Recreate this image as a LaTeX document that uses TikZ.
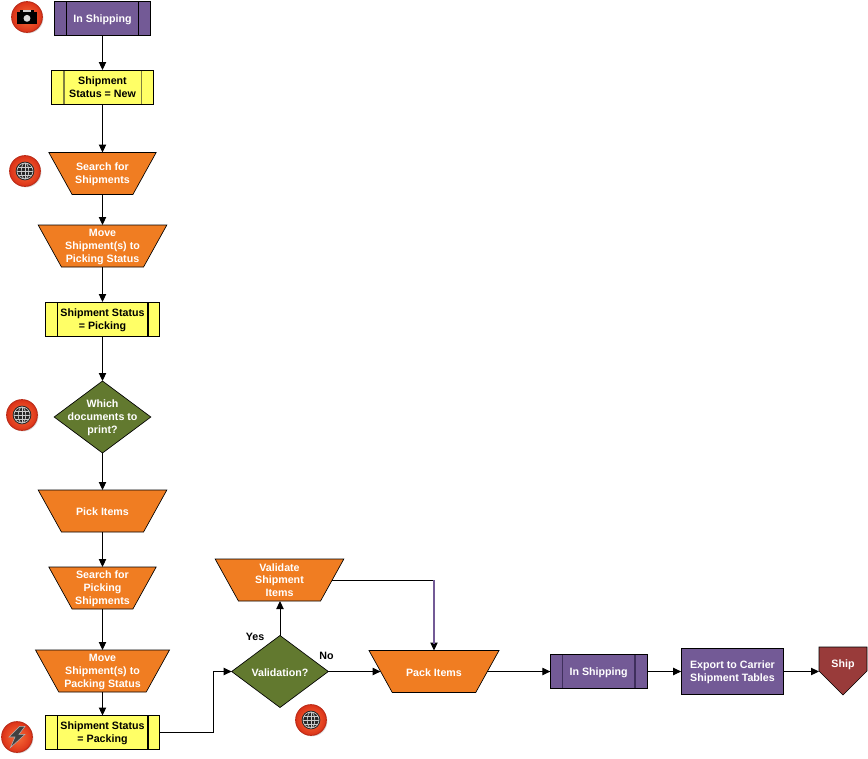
\documentclass[tikz,border=0pt]{standalone}
\usepackage{fontspec}
\setmainfont{Liberation Sans}
\usetikzlibrary{shapes.geometric, shapes.symbols, arrows.meta, shadows}

\definecolor{procpurple}{HTML}{735A96}
\definecolor{darkpurple}{HTML}{3F2F5C}
\definecolor{statusyellow}{HTML}{FFFF66}
\definecolor{olivebar}{HTML}{7F7F40}
\definecolor{steporange}{HTML}{F07D22}
\definecolor{decgreen}{HTML}{62792F}
\definecolor{shipred}{HTML}{993B3A}
\definecolor{badgeinner}{HTML}{F8703A}
\definecolor{badgeouter}{HTML}{DC3218}
\definecolor{badgerim}{HTML}{BC2C18}

\tikzset{
    boxtext/.style={font=\bfseries\fontsize{8}{9.6}\selectfont, align=center, inner sep=0pt},
    whitetext/.style={boxtext, text=white, yshift=-0.75pt},
    blacktext/.style={boxtext, text=black, yshift=-0.75pt},
    barbox/.style 2 args={rectangle, draw, line width=0.75pt, outer sep=0pt,
        minimum height=#2,
        path picture={
            \draw[#1, line width=1pt] ([xshift=9pt]path picture bounding box.north west) -- ([xshift=9pt]path picture bounding box.south west);
            \draw[#1, line width=1pt] ([xshift=-9pt]path picture bounding box.north east) -- ([xshift=-9pt]path picture bounding box.south east);
        }},
    statusbox/.style={barbox={black}{25.5pt}, fill=statusyellow},
    shipbox/.style={barbox={black}{26pt}, fill=procpurple},
    stepbox/.style={trapezium, trapezium stretches body=true, shape border rotate=180,
        trapezium left angle=61, trapezium right angle=61, draw, line width=0.5pt, outer sep=0pt,
        fill=steporange, inner ysep=15.75pt, inner xsep=0pt},
    decision/.style={diamond, draw, line width=0.5pt, outer sep=0pt, fill=decgreen, inner sep=0pt,
        minimum width=72.5pt, minimum height=54pt},
    flow/.style={-{Triangle[length=6pt, width=5.5pt]}, line width=0.75pt},
    badge/.style={circle, minimum size=23pt, inner sep=0pt, outer sep=0pt,
        draw=badgerim, line width=0.75pt, shading=radial, inner color=badgeinner, outer color=badgeouter,
        drop shadow={opacity=0.3, shadow xshift=0.8pt, shadow yshift=-0.8pt}},
    globebadge/.style={badge, path picture={
        \coordinate (gc) at (path picture bounding box.center);
        \fill[black!85] (gc) circle (7pt);
        \draw[white!80!black, line width=0.5pt] (gc) circle (6pt);
        \draw[white!80!black, line width=0.5pt] (gc) ellipse (2.8pt and 6pt);
        \draw[white!80!black, line width=0.5pt] ([xshift=-6pt]gc) -- ([xshift=6pt]gc);
        \draw[white!80!black, line width=0.5pt] ([xshift=-5pt, yshift=3pt]gc) -- ([xshift=5pt, yshift=3pt]gc);
        \draw[white!80!black, line width=0.5pt] ([xshift=-5pt, yshift=-3pt]gc) -- ([xshift=5pt, yshift=-3pt]gc);
        \draw[white!80!black, line width=0.5pt] ([yshift=-6pt]gc) -- ([yshift=6pt]gc);
    }},
    camerabadge/.style={badge, path picture={
        \coordinate (gc) at (path picture bounding box.center);
        \fill[black] ([xshift=-7.5pt, yshift=-5.5pt]gc) rectangle ([xshift=7.5pt, yshift=3.5pt]gc);
        \fill[black] ([xshift=-5.5pt, yshift=3.5pt]gc) rectangle ([xshift=-3pt, yshift=5.5pt]gc);
        \fill[black] ([xshift=3pt, yshift=3.5pt]gc) rectangle ([xshift=5.5pt, yshift=5.5pt]gc);
        \fill[white!80!black] ([xshift=-3pt, yshift=3.5pt]gc) rectangle ([xshift=3pt, yshift=5pt]gc);
        \fill[white!85!black] ([yshift=-1pt]gc) circle (2.6pt);
    }},
    boltbadge/.style={badge, path picture={
        \coordinate (gc) at (path picture bounding box.center);
        \fill[black!75, draw=white!70!black, line width=0.4pt] ([xshift=2pt, yshift=8pt]gc) -- ([xshift=-6pt, yshift=0pt]gc) -- ([xshift=-1.5pt, yshift=0pt]gc)
            -- ([xshift=-5pt, yshift=-8pt]gc) -- ([xshift=6pt, yshift=2pt]gc) -- ([xshift=1.5pt, yshift=2pt]gc) -- ([xshift=6pt, yshift=8pt]gc) -- cycle;
    }},
}

\begin{document}
\begin{tikzpicture}[x=0.75pt, y=-0.75pt]
    \useasboundingbox (0, 0) rectangle (868, 758);

    % Left column
    \node[shipbox, minimum width=72pt, label={[whitetext]center:In Shipping}] (ship1) at (102.5, 18.5) {};
    \node[barbox={olivebar}{25.5pt}, fill=statusyellow, minimum width=76pt, label={[boxtext, text=black]center:Shipment\\Status = New}] (new) at (102.5, 87) {};
    \node[stepbox, minimum width=80.5pt, label={[whitetext]center:Search for\\Shipments}] (search) at (102.5, 173.5) {};
    \node[stepbox, minimum width=96.5pt, label={[whitetext]center:Move\\Shipment(s) to\\Picking Status}] (movepick) at (102.5, 246) {};
    \node[statusbox, minimum width=86pt, label={[blacktext]center:Shipment Status\\= Picking}] (picking) at (102.5, 319) {};
    \node[decision, label={[whitetext]center:Which\\documents to\\print?}] (which) at (102.5, 417) {};
    \node[stepbox, minimum width=96.5pt, label={[whitetext]center:Pick Items}] (pick) at (102.5, 511) {};
    \node[stepbox, minimum width=80.5pt, label={[whitetext]center:Search for\\Picking\\Shipments}] (searchpick) at (102.5, 588) {};
    \node[stepbox, minimum width=100.5pt, label={[whitetext]center:Move\\Shipment(s) to\\Packing Status}] (movepack) at (102.5, 671) {};
    \node[statusbox, minimum width=86pt, label={[blacktext]center:Shipment Status\\= Packing}] (packing) at (102.5, 732.5) {};

    % Bottom row
    \node[decision, label={[whitetext]center:Validation?}] (valid) at (280, 671.5) {};
    \node[stepbox, minimum width=96.5pt, label={[boxtext, text=white]center:Validate\\Shipment\\Items}] (validate) at (279.5, 580) {};
    \node[stepbox, minimum width=97.5pt, label={[whitetext]center:Pack Items}] (pack) at (434, 671.5) {};
    \node[barbox={darkpurple}{25.5pt}, fill=procpurple, minimum width=72.5pt, label={[whitetext]center:In Shipping}] (ship2) at (598.7, 671.5) {};
    \node[rectangle, draw, line width=0.75pt, outer sep=0pt, fill=procpurple, minimum width=77pt, minimum height=34pt, label={[whitetext]center:Export to Carrier\\Shipment Tables}] (export) at (732.5, 671.5) {};
    \node[signal, signal to=south, signal pointer angle=90, draw, line width=0.5pt, outer sep=0pt, fill=shipred, inner sep=0pt, minimum width=36pt, minimum height=18pt, anchor=north] (ship) at (843, 647) {};
    \node[boxtext, text=white] (shiptext) at (843, 665) {Ship};

    % Branch labels
    \node[boxtext] (yes) at (255, 636.5) {Yes};
    \node[boxtext] (no) at (326.5, 655.5) {No};

    % Badges
    \node[camerabadge] (cam) at (27, 17) {};
    \node[globebadge] (web1) at (25, 171) {};
    \node[globebadge] (web2) at (22, 415) {};
    \node[boltbadge] (bolt) at (17, 737) {};
    \node[globebadge] (web3) at (311, 720) {};

    % Connectors
    \coordinate (elbow) at (213.5, 671.5);
    \coordinate (corner) at (validate.east -| pack.north);
    \draw[flow] (ship1) -- (new);
    \draw[flow] (new) -- (search);
    \draw[flow] (search) -- (movepick);
    \draw[flow] (movepick) -- (picking);
    \draw[flow] (picking) -- (which);
    \draw[flow] (which) -- (pick);
    \draw[flow] (pick) -- (searchpick);
    \draw[flow] (searchpick) -- (movepack);
    \draw[flow] (movepack) -- (packing);
    \draw[flow] (packing.east) -| (elbow) -- (valid.west);
    \draw[flow] (valid.north) -- (valid.north |- validate.south);
    \draw[flow] (valid) -- (pack);
    \draw[flow] (validate.east) -| (pack.north);
    \draw[procpurple, line width=1pt] (corner) -- ([yshift=5pt]pack.north);
    \draw[flow] (pack) -- (ship2);
    \draw[flow] (ship2) -- (export);
    \draw[flow] (export) -- (export -| ship.west);
\end{tikzpicture}
\end{document}
